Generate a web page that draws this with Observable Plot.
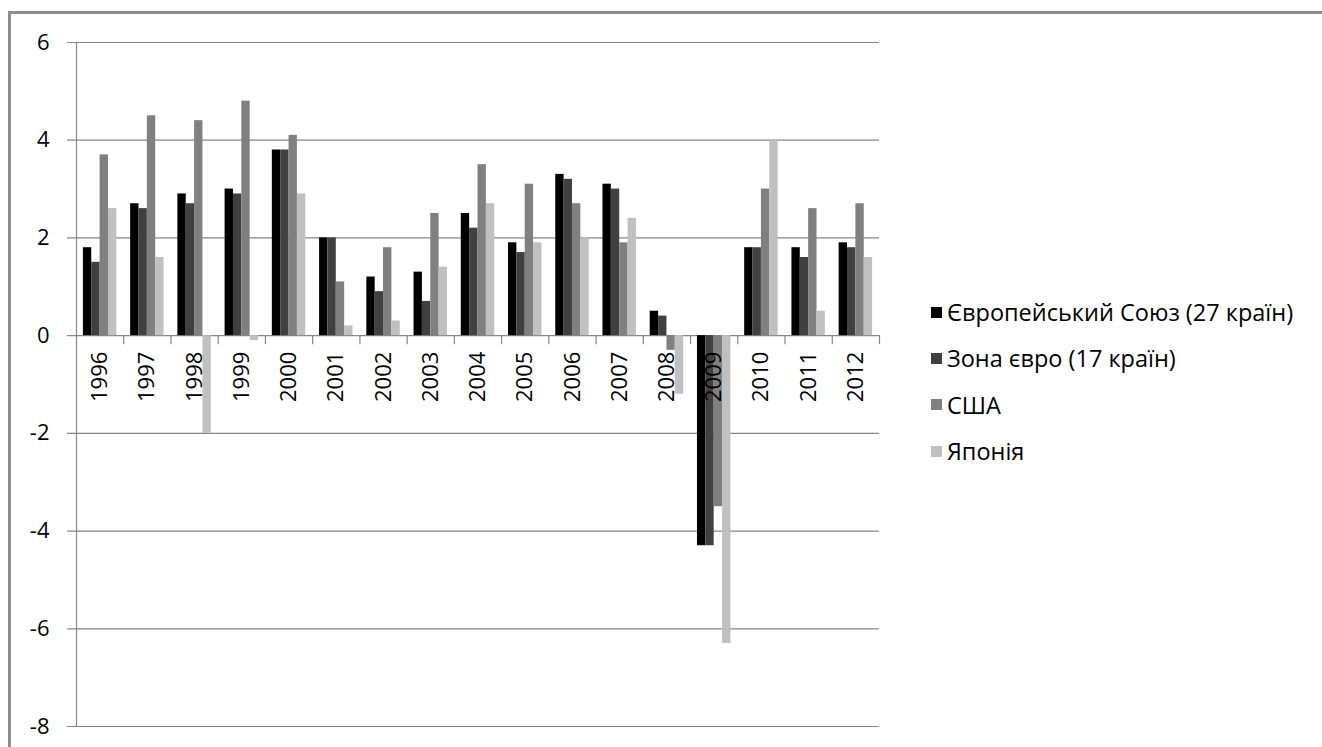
<!DOCTYPE html>
<html>
<head>
<meta charset="utf-8">
<script src="https://cdn.jsdelivr.net/npm/d3@7"></script>
<script src="https://cdn.jsdelivr.net/npm/@observablehq/plot@0.6"></script>
<style>
  html, body { margin: 0; padding: 0; background: #fff; }
  #chart {
    position: relative;
    width: 1322px;
    height: 747px;
    overflow: hidden;
    font-family: "Open Sans", sans-serif;
    background: #fff;
  }
  #frame {
    position: absolute;
    left: 8px;
    top: 11px;
    width: 1400px;
    height: 800px;
    border: 3px solid #8c8c8c;
    box-sizing: border-box;
  }
  #plot { position: absolute; left: 0; top: 0; }
  #legend {
    position: absolute;
    left: 931px;
    top: 289px;
  }
  .item {
    display: flex;
    align-items: center;
    height: 46.3px;
    font-size: 23.5px;
    color: #000;
    white-space: nowrap;
  }
  .swatch {
    width: 11px;
    height: 11px;
    margin-right: 5px;
    flex: none;
  }
</style>
</head>
<body>
<div id="chart">
  <div id="frame"></div>
  <div id="plot"></div>
  <div id="legend"></div>
</div>
<script>
// Real GDP growth, % change on previous year
const years = [1996, 1997, 1998, 1999, 2000, 2001, 2002, 2003, 2004, 2005, 2006, 2007, 2008, 2009, 2010, 2011, 2012];
const eu27  = [1.8, 2.7, 2.9, 3.0, 3.8, 2.0, 1.2, 1.3, 2.5, 1.9, 3.3, 3.1, 0.5, -4.3, 1.8, 1.8, 1.9];
const ea17  = [1.5, 2.6, 2.7, 2.9, 3.8, 2.0, 0.9, 0.7, 2.2, 1.7, 3.2, 3.0, 0.4, -4.3, 1.8, 1.6, 1.8];
const usa   = [3.7, 4.5, 4.4, 4.8, 4.1, 1.1, 1.8, 2.5, 3.5, 3.1, 2.7, 1.9, -0.3, -3.5, 3.0, 2.6, 2.7];
const japan = [2.6, 1.6, -2.0, -0.1, 2.9, 0.2, 0.3, 1.4, 2.7, 1.9, 2.0, 2.4, -1.2, -6.3, 4.0, 0.5, 1.6];

const seriesNames  = ["Європейський Союз (27 країн)", "Зона євро (17 країн)", "США", "Японія"];
const seriesValues = [eu27, ea17, usa, japan];
const seriesColors = ["#000000", "#404040", "#808080", "#c0c0c0"];
const yTicks = [-8, -6, -4, -2, 0, 2, 4, 6];

// Bars of one year share 70.8% of the category; each series gets a quarter of it.
const groupShare = 0.708;
const barShare = groupShare / seriesNames.length;

const rows = years.flatMap((year, i) =>
  seriesNames.map((name, s) => ({
    year,
    series: name,
    value: seriesValues[s][i],
    left: year - groupShare / 2 + s * barShare,
    right: year - groupShare / 2 + (s + 1) * barShare
  }))
);

const boundaries = years.map(y => y + 0.5);
const gridColor = "#868686";

const chart = Plot.plot({
  width: 1322,
  height: 747,
  marginLeft: 76,
  marginRight: 443,
  marginTop: 42,
  marginBottom: 21,
  style: { fontFamily: "'Open Sans', sans-serif", background: "transparent", color: "#000", overflow: "visible" },
  x: { type: "linear", domain: [years[0] - 0.5, years[years.length - 1] + 0.5], axis: null },
  y: { domain: [-8, 6], axis: null },
  color: { domain: seriesNames, range: seriesColors },
  marks: [
    // horizontal gridlines with small outward ticks
    Plot.ruleY(yTicks, { x1: years[0] - 0.5, x2: years[years.length - 1] + 0.5, stroke: gridColor, strokeWidth: 1.2, insetLeft: -9 }),
    // vertical value axis
    Plot.ruleX([years[0] - 0.5], { y1: -8, y2: 6, stroke: gridColor, strokeWidth: 1.2 }),
    // bars
    Plot.rect(rows, { x1: "left", x2: "right", y1: 0, y2: "value", fill: "series" }),
    // category separators on the zero line
    Plot.ruleX(boundaries, { x: d => d, y1: 0, y2: 0, insetBottom: -9, stroke: gridColor, strokeWidth: 1.2 }),
    // year labels
    Plot.text(years, { x: d => d, y: 0, text: d => String(d), rotate: -90, textAnchor: "end", dy: 16, fontSize: 22, fill: "#000" }),
    // value labels
    Plot.text(yTicks, { x: years[0] - 0.5, y: d => d, text: d => String(d), textAnchor: "end", dx: -27, fontSize: 22, fill: "#000" })
  ]
});

document.getElementById("plot").appendChild(chart);

const legend = d3.select("#legend");
seriesNames.forEach((name, i) => {
  const item = legend.append("div").attr("class", "item");
  item.append("div").attr("class", "swatch").style("background", seriesColors[i]);
  item.append("span").text(name);
});
</script>
</body>
</html>
